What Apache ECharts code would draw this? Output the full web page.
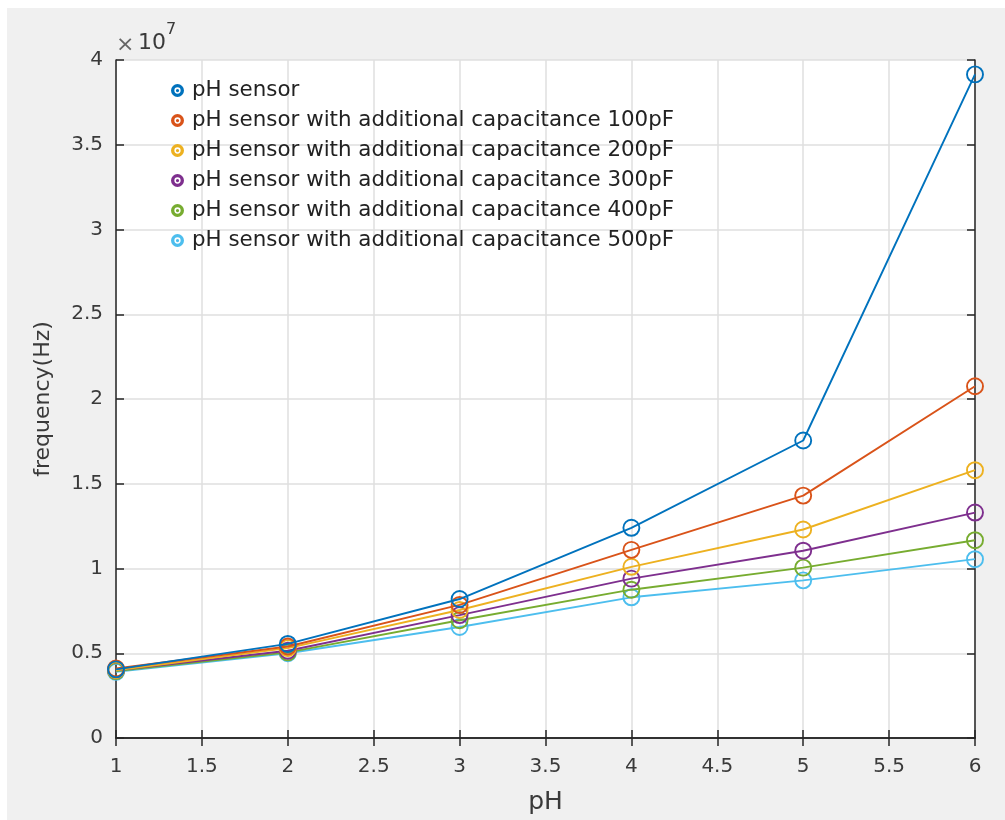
<!DOCTYPE html>
<html>
<head>
<meta charset="utf-8">
<script src="https://cdn.jsdelivr.net/npm/echarts@6/dist/echarts.min.js"></script>
<style>
  body { margin: 0; background: #fff; }
  .panel { position: absolute; left: 7px; top: 8px; width: 998px; height: 812px; background: #f0f0f0; }
  .chart { position: absolute; left: 0; top: 0; width: 1005px; height: 820px; }
</style>
</head>
<body>
<div class="panel"></div>
<div class="chart" id="chart"></div>
<script>
const phValues = [1, 2, 3, 4, 5, 6]
const seriesNames = [
  'pH sensor',
  'pH sensor with additional capacitance 100pF',
  'pH sensor with additional capacitance 200pF',
  'pH sensor with additional capacitance 300pF',
  'pH sensor with additional capacitance 400pF',
  'pH sensor with additional capacitance 500pF',
]
// frequency in units of 1e7 Hz
const sensor = [0.405, 0.555, 0.82, 1.24, 1.755, 3.915]
const cap100 = [0.41, 0.54, 0.785, 1.11, 1.43, 2.075]
const cap200 = [0.40, 0.53, 0.755, 1.01, 1.23, 1.58]
const cap300 = [0.40, 0.515, 0.725, 0.94, 1.105, 1.33]
const cap400 = [0.395, 0.505, 0.695, 0.875, 1.005, 1.167]
const cap500 = [0.39, 0.50, 0.655, 0.83, 0.93, 1.055]
const yTicks = [0, 0.5, 1, 1.5, 2, 2.5, 3, 3.5, 4]
const colors = ['#0072BD', '#D95319', '#EDB120', '#7E2F8E', '#77AC30', '#4DBEEE']

const allData = [sensor, cap100, cap200, cap300, cap400, cap500]
const axisColor = '#262626'
const font = 'DejaVu Sans, sans-serif'
// thick ring with a dot in the middle, like the matlab legend marker
const ringIcon = 'path://M0,-6A6,6,0,1,1,0,6A6,6,0,1,1,0,-6ZM0,-2.9A2.9,2.9,0,1,0,0,2.9A2.9,2.9,0,1,0,0,-2.9ZM0,-1.5A1.5,1.5,0,1,1,0,1.5A1.5,1.5,0,1,1,0,-1.5Z'

const chart = echarts.init(document.getElementById('chart'))

const baseAxis = {
  axisLine: { show: true, lineStyle: { color: axisColor, width: 1.5 } },
  axisTick: { show: true, inside: true, length: 8, lineStyle: { color: axisColor, width: 1.5 } },
  axisLabel: { color: '#3a3a3a', fontSize: 20, fontFamily: font },
  splitLine: { show: false },
}

const options = {
  backgroundColor: 'transparent',
  animation: false,
  color: colors,
  grid: { left: 116, top: 60, right: 30, bottom: 80, backgroundColor: '#fff', show: true, borderWidth: 0 },
  legend: {
    orient: 'vertical',
    left: 166,
    top: 75,
    itemGap: 9,
    itemWidth: 13,
    itemHeight: 13,
    textStyle: { color: '#222', fontSize: 21.4, fontFamily: font, padding: [0, 0, 0, 3] },
    data: seriesNames.map((name, i) => ({
      name,
      icon: ringIcon,
      itemStyle: { color: colors[i], borderWidth: 0 },
    })),
  },
  xAxis: [
    Object.assign({}, baseAxis, {
      type: 'value', min: 1, max: 6, interval: 0.5,
      name: 'pH', nameLocation: 'middle', nameGap: 52,
      nameTextStyle: { color: '#3a3a3a', fontSize: 25, fontFamily: font },
      axisLabel: Object.assign({}, baseAxis.axisLabel, { margin: 19 }),
      splitLine: { show: true, lineStyle: { color: '#dfdfdf', width: 1.5 } },
    }),
    Object.assign({}, baseAxis, {
      type: 'value', min: 1, max: 6, interval: 0.5, position: 'top',
      axisLabel: { show: false },
    }),
  ],
  yAxis: [
    Object.assign({}, baseAxis, {
      type: 'value', min: 0, max: 4, interval: 0.5,
      name: 'frequency(Hz)', nameLocation: 'middle', nameGap: 62,
      nameTextStyle: { color: '#3a3a3a', fontSize: 22, fontFamily: font },
      axisLabel: Object.assign({}, baseAxis.axisLabel, {
        margin: 13,
        formatter: v => (yTicks.indexOf(v) >= 0 ? String(v) : ''),
      }),
      splitLine: { show: true, lineStyle: { color: '#dfdfdf', width: 1.5 } },
    }),
    Object.assign({}, baseAxis, {
      type: 'value', min: 0, max: 4, interval: 0.5, position: 'right',
      axisLabel: { show: false },
    }),
  ],
  graphic: [
    { type: 'text', left: 116, top: 34, style: { text: '×', fontSize: 22, fontFamily: font, fill: '#666' } },
    { type: 'text', left: 138, top: 32, style: { text: '10', fontSize: 22, fontFamily: font, fill: '#3a3a3a' } },
    { type: 'text', left: 166, top: 22, style: { text: '7', fontSize: 16, fontFamily: font, fill: '#3a3a3a' } },
  ],
  series: seriesNames.map((name, i) => ({
    name,
    type: 'line',
    data: phValues.map((x, j) => [x, allData[i][j]]),
    symbol: 'circle',
    symbolSize: 16,
    showAllSymbol: true,
    lineStyle: { width: 1.9, color: colors[i] },
    itemStyle: { color: 'rgba(255,255,255,0)', borderColor: colors[i], borderWidth: 1.9 },
    z: 10 - i,
  })),
}

chart.setOption(options)
</script>
</body>
</html>
